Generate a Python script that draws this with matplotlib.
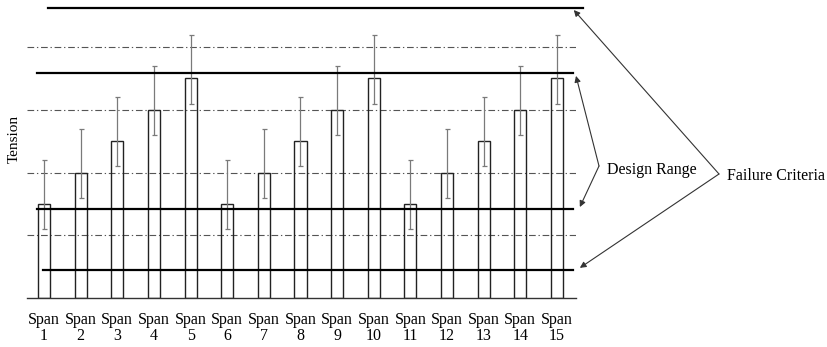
import matplotlib
matplotlib.use('Agg')
import matplotlib.pyplot as plt
import numpy as np

plt.rcParams['font.family'] = ['Liberation Serif', 'DejaVu Serif']

# span tension values
spans = np.arange(1, 16)
tension = [1.5, 2.0, 2.5, 3.0, 3.5] * 3
err_up = [0.7] * 15
err_down = [0.4] * 15
tick_labels = [f'Span\n{i}' for i in spans]

# limit lines
design_range = [1.42, 3.59]
failure_criteria = [0.45, 4.62]
grid_levels = [1, 2, 3, 4]

fig = plt.figure(figsize=(8.28, 3.47), dpi=100)
ax = fig.add_axes([27 / 828, 49 / 347, 549 / 828, 298 / 347])

# dash-dot reference levels
for g in grid_levels:
    ax.axhline(g, color='#555555', lw=0.8, linestyle=(0, (6, 2.5, 1.2, 2.5)), zorder=1)

# bars, unfilled
ax.bar(spans, tension, width=0.33, fill=False, edgecolor='#222222', lw=1.0, zorder=2)
ax.errorbar(spans, tension, yerr=[err_down, err_up], fmt='none',
            ecolor='#7a7a7a', elinewidth=0.9, capsize=1.8, capthick=0.9, zorder=3)

# design range and failure criteria lines
ax.axhline(failure_criteria[1], xmin=0.038, xmax=1.013, color='black', lw=1.6, clip_on=False, zorder=4)
ax.axhline(design_range[1], xmin=0.018, xmax=0.995, color='black', lw=1.6, clip_on=False, zorder=4)
ax.axhline(design_range[0], xmin=0.018, xmax=0.995, color='black', lw=1.6, clip_on=False, zorder=4)
ax.axhline(failure_criteria[0], xmin=0.029, xmax=0.995, color='black', lw=1.6, clip_on=False, zorder=4)

ax.set_xlim(0.535, 15.52)
ax.set_ylim(0, 4.75)
ax.set_xticks(spans)
ax.set_xticklabels(tick_labels, fontsize=11.5, linespacing=1.05)
ax.set_yticks([])
ax.tick_params(axis='x', length=0, pad=10)
for s in ['top', 'right', 'left']:
    ax.spines[s].set_visible(False)
ax.spines['bottom'].set_color('#333333')
ax.spines['bottom'].set_linewidth(1.0)
ax.set_ylabel('Tension', fontsize=11)
ax.yaxis.set_label_coords(-0.011, 0.534)

# annotations
arrow = dict(arrowstyle='-|>', color='#333333', lw=0.8, mutation_scale=9,
             shrinkA=0, shrinkB=0)
design_vertex = (599 / 828, 1 - 166 / 347)
failure_vertex = (719 / 828, 1 - 174 / 347)

ax.annotate('', xy=(1.0, design_range[1] - 0.05), xycoords=('axes fraction', 'data'),
            xytext=design_vertex, textcoords='figure fraction', arrowprops=arrow,
            annotation_clip=False)
ax.annotate('', xy=(1.007, design_range[0] + 0.03), xycoords=('axes fraction', 'data'),
            xytext=design_vertex, textcoords='figure fraction', arrowprops=arrow,
            annotation_clip=False)
ax.annotate('', xy=(0.996, failure_criteria[1] - 0.03), xycoords=('axes fraction', 'data'),
            xytext=failure_vertex, textcoords='figure fraction', arrowprops=arrow,
            annotation_clip=False)
ax.annotate('', xy=(1.007, failure_criteria[0] + 0.03), xycoords=('axes fraction', 'data'),
            xytext=failure_vertex, textcoords='figure fraction', arrowprops=arrow,
            annotation_clip=False)

fig.text(607 / 828, 1 - 170 / 347, 'Design Range', fontsize=11.5, ha='left', va='center')
fig.text(727 / 828, 1 - 176 / 347, 'Failure Criteria', fontsize=11.5, ha='left', va='center')

fig.savefig('out.png', dpi=100)
